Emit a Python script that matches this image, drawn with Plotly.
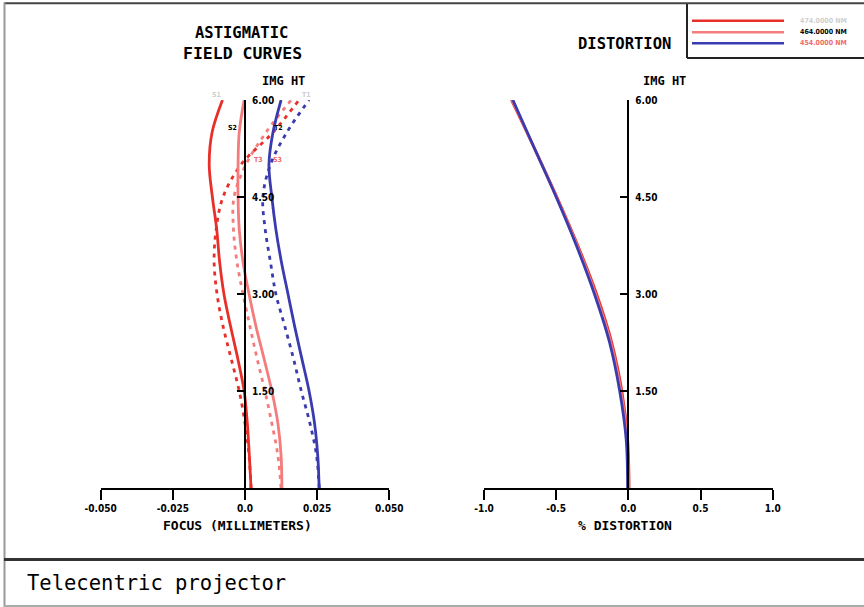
import plotly.graph_objects as go

# ---- data -------------------------------------------------------------
img_ht = [0.0, 0.5, 1.0, 1.5, 2.0, 2.5, 3.0, 3.5, 4.0, 4.5, 5.0, 5.5, 6.0]

# sagittal (S) and tangential (T) focus, mm
s_474 = [0.0021, 0.0015, 0.0008, -0.0003, -0.0025, -0.0050, -0.0073, -0.0088, -0.0098, -0.0113, -0.0124, -0.0114, -0.0078]
t_474 = [0.0021, 0.0014, 0.0000, -0.0020, -0.0048, -0.0076, -0.0097, -0.0107, -0.0100, -0.0076, -0.0014, 0.0097, 0.0187]
s_464 = [0.0128, 0.0125, 0.0114, 0.0093, 0.0066, 0.0038, 0.0014, -0.0007, -0.0020, -0.0024, -0.0024, -0.0020, -0.0003]
t_464 = [0.0125, 0.0114, 0.0093, 0.0069, 0.0042, 0.0017, -0.0007, -0.0028, -0.0040, -0.0038, 0.0003, 0.0073, 0.0160]
s_454 = [0.0257, 0.0252, 0.0241, 0.0222, 0.0197, 0.0172, 0.0149, 0.0126, 0.0107, 0.0093, 0.0083, 0.0097, 0.0125]
t_454 = [0.0257, 0.0248, 0.0225, 0.0195, 0.0168, 0.0138, 0.0107, 0.0088, 0.0070, 0.0062, 0.0088, 0.0145, 0.0222]

dist_ht = [0.0, 0.75, 1.5, 2.25, 3.0, 3.75, 4.5, 5.25, 6.0]
dist_474 = [0.005, -0.005, -0.045, -0.115, -0.220, -0.350, -0.495, -0.650, -0.810]
dist_464 = [0.000, -0.010, -0.052, -0.122, -0.228, -0.355, -0.498, -0.650, -0.805]
dist_454 = [-0.005, -0.015, -0.060, -0.130, -0.235, -0.360, -0.500, -0.650, -0.800]

wavelengths = ["474.0000 NM", "464.0000 NM", "454.0000 NM"]
wl_colors = ["#e8302a", "#f47c7c", "#3b3bb0"]
wl_text_colors = ["#cfcfcf", "#000000", "#f06a6a"]

focus_ticks = [-0.05, -0.025, 0.0, 0.025, 0.05]
focus_labels = ["-0.050", "-0.025", "0.0", "0.025", "0.050"]
dist_ticks = [-1.0, -0.5, 0.0, 0.5, 1.0]
dist_labels = ["-1.0", "-0.5", "0.0", "0.5", "1.0"]
ht_ticks = [1.5, 3.0, 4.5, 6.0]
ht_labels = ["1.50", "3.00", "4.50", "6.00"]

W, H = 864, 607


def px(x):
    return x / W


def py(y):
    return 1 - y / H


MONO = "DejaVu Sans Mono"
NARROW = "DejaVu Sans Condensed"
DOTS = "4px,5px"
LW = 2.8

fig = go.Figure()

focus_sets = [(s_474, t_474), (s_464, t_464), (s_454, t_454)]
for (s, t), col in zip(focus_sets, wl_colors):
    fig.add_trace(go.Scatter(x=s, y=img_ht, mode="lines", line=dict(color=col, width=LW, shape="spline"),
                             xaxis="x", yaxis="y", showlegend=False, hoverinfo="skip"))
    fig.add_trace(go.Scatter(x=t, y=img_ht, mode="lines", line=dict(color=col, width=LW, dash=DOTS, shape="spline"),
                             xaxis="x", yaxis="y", showlegend=False, hoverinfo="skip"))

for d, col in zip([dist_474, dist_464, dist_454], wl_colors):
    fig.add_trace(go.Scatter(x=d, y=dist_ht, mode="lines", line=dict(color=col, width=LW, shape="spline"),
                             xaxis="x2", yaxis="y2", showlegend=False, hoverinfo="skip"))

left_dom = [px(100.7), px(389.3)]
right_dom = [px(484.0), px(772.7)]
y_dom = [py(488), py(100)]

xcommon = dict(showgrid=False, zeroline=False, showline=True, linecolor="black", linewidth=2,
               ticks="outside", ticklen=10, tickwidth=2, tickcolor="black", automargin=False,
               tickfont=dict(family=NARROW, size=10, color="black"), fixedrange=True)
ycommon = dict(showgrid=False, zeroline=False, showline=True, linecolor="black", linewidth=2,
               ticks="inside", ticklen=7, tickwidth=2, tickcolor="black", side="right", anchor="free",
               automargin=False, ticklabelstandoff=4,
               tickfont=dict(family=NARROW, size=10, color="black"), fixedrange=True,
               tickvals=ht_ticks, ticktext=["<b>%s</b>" % s for s in ht_labels], range=[0, 6], domain=y_dom)

fig.update_layout(
    width=W, height=H, margin=dict(l=0, r=0, t=0, b=0, pad=0, autoexpand=False),
    template="none",
    paper_bgcolor="white", plot_bgcolor="white", showlegend=False,
    xaxis=dict(xcommon, domain=left_dom, range=[-0.05, 0.05], anchor="y",
               tickvals=focus_ticks, ticktext=["<b>%s</b>" % s for s in focus_labels]),
    yaxis=dict(ycommon, position=(left_dom[0] + left_dom[1]) / 2),
    xaxis2=dict(xcommon, domain=right_dom, range=[-1, 1], anchor="y2",
                tickvals=dist_ticks, ticktext=["<b>%s</b>" % s for s in dist_labels]),
    yaxis2=dict(ycommon, position=(right_dom[0] + right_dom[1]) / 2),
)

ann = []


def text(x, y, s, size, color="black", family=MONO, xanchor="center"):
    ann.append(dict(x=px(x), y=py(y), xref="paper", yref="paper", text=s, showarrow=False,
                    font=dict(family=family, size=size, color=color), xanchor=xanchor, yanchor="middle"))


text(241, 33, "<b>ASTIGMATIC</b>", 15.5)
text(242, 53, "<b>FIELD CURVES</b>", 16.5)
text(283, 81, "<b>IMG HT</b>", 12)
text(624, 44, "<b>DISTORTION</b>", 15.5)
text(664, 81, "<b>IMG HT</b>", 12)
text(237, 525, "<b>FOCUS (MILLIMETERS)</b>", 13)
text(625, 525, "<b>% DISTORTION</b>", 13)
text(25, 583, "Telecentric projector", 20.5, family=MONO, xanchor="left")

# curve labels
text(217, 95, "<b>S1</b>", 7, wl_text_colors[0], NARROW)
text(306, 95, "<b>T1</b>", 7, wl_text_colors[0], NARROW)
text(232, 128, "<b>S2</b>", 7, wl_text_colors[1], NARROW)
text(278, 128, "<b>T2</b>", 7, wl_text_colors[1], NARROW)
text(258, 160, "<b>T3</b>", 7, wl_text_colors[2], NARROW)
text(277, 160, "<b>S3</b>", 7, wl_text_colors[2], NARROW)

shapes = []
# legend box
legend_y = [20.7, 32.3, 43.3]
for yy, col, lab, tcol in zip(legend_y, wl_colors, wavelengths, wl_text_colors):
    shapes.append(dict(type="line", xref="paper", yref="paper", x0=px(692), x1=px(784), y0=py(yy), y1=py(yy),
                       line=dict(color=col, width=2.5)))
    text(798, yy, "<b>%s</b>" % lab, 7, tcol, NARROW, xanchor="left")
shapes.append(dict(type="line", xref="paper", yref="paper", x0=px(687), x1=px(687), y0=py(3), y1=py(58),
                   line=dict(color="#222", width=2)))
shapes.append(dict(type="line", xref="paper", yref="paper", x0=px(687), x1=1, y0=py(58), y1=py(58),
                   line=dict(color="#222", width=2)))

# frame
shapes.append(dict(type="line", xref="paper", yref="paper", x0=px(4), x1=1, y0=py(3.3), y1=py(3.3),
                   line=dict(color="#444", width=2)))
shapes.append(dict(type="line", xref="paper", yref="paper", x0=px(4.5), x1=px(4.5), y0=py(2.5), y1=py(607),
                   line=dict(color="#999", width=2)))
shapes.append(dict(type="line", xref="paper", yref="paper", x0=px(4), x1=1, y0=py(559.5), y1=py(559.5),
                   line=dict(color="#333", width=3)))
shapes.append(dict(type="line", xref="paper", yref="paper", x0=px(4), x1=1, y0=py(606), y1=py(606),
                   line=dict(color="#aaa", width=2)))

fig.update_layout(annotations=ann, shapes=shapes)

fig.write_html("out.html")
